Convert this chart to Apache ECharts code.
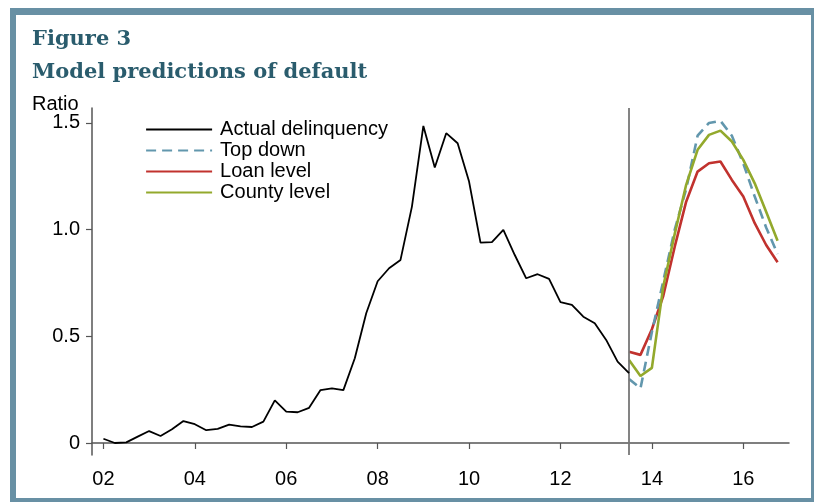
<!DOCTYPE html>
<html>
<head>
<meta charset="utf-8">
<script src="https://cdn.jsdelivr.net/npm/echarts@6/dist/echarts.min.js"></script>
<style>
html,body{margin:0;padding:0;background:#fff;}
#chart{width:814px;height:502px;}
</style>
</head>
<body>
<div id="chart"></div>
<script>
// ---- Data (quarterly) ----
const actualStart = 2002.0;      // first quarter of actual series
const forecastStart = 2013.5;    // first quarter of model predictions
const quarterStep = 0.25;

const actualDelinquency = [
  0.020, 0.000, 0.003, 0.030,
  0.056, 0.033, 0.064, 0.103,
  0.088, 0.060, 0.066, 0.086,
  0.078, 0.075, 0.100, 0.200,
  0.147, 0.144, 0.165, 0.248,
  0.256, 0.248, 0.397, 0.608,
  0.758, 0.819, 0.858, 1.108,
  1.486, 1.291, 1.452, 1.405,
  1.225, 0.939, 0.941, 0.999,
  0.881, 0.772, 0.791, 0.769,
  0.660, 0.647, 0.592, 0.561,
  0.483, 0.381, 0.327
];
const topDown = [0.300, 0.256, 0.520, 0.760, 1.000, 1.190, 1.440, 1.500, 1.510, 1.440, 1.310, 1.155, 1.010, 0.886];
const loanLevel = [0.428, 0.413, 0.533, 0.690, 0.920, 1.131, 1.272, 1.311, 1.319, 1.233, 1.155, 1.030, 0.928, 0.847];
const countyLevel = [0.389, 0.314, 0.352, 0.735, 0.980, 1.210, 1.374, 1.444, 1.464, 1.413, 1.327, 1.217, 1.084, 0.948];

const seriesNames = ['Actual delinquency', 'Top down', 'Loan level', 'County level'];
const xTickValues = [2002, 2004, 2006, 2008, 2010, 2012, 2014, 2016];
const yTickValues = [0, 0.5, 1.0, 1.5];
const forecastCutoff = 2013.5;

function toPairs(values, start) {
  return values.map((v, i) => [start + i * quarterStep, v]);
}

const BORDER = '#6890a4';
const TITLE = '#2a5c6d';
const chart = echarts.init(document.getElementById('chart'), null, {renderer: 'canvas'});

const option = {
  animation: false,
  backgroundColor: '#fff',
  graphic: [
    {type: 'rect', shape: {x: 10, y: 8, width: 804, height: 7}, style: {fill: BORDER}, silent: true},
    {type: 'rect', shape: {x: 10, y: 8, width: 6, height: 494}, style: {fill: BORDER}, silent: true},
    {type: 'rect', shape: {x: 811, y: 8, width: 3, height: 494}, style: {fill: BORDER}, silent: true},
    {type: 'rect', shape: {x: 10, y: 498, width: 804, height: 4}, style: {fill: BORDER}, silent: true},
    {type: 'text', x: 32, y: 40, style: {text: 'Figure 3', fill: TITLE, font: 'bold 21px "DejaVu Serif"', verticalAlign: 'middle'}},
    {type: 'text', x: 32, y: 73, style: {text: 'Model predictions of default', fill: TITLE, font: 'bold 21px "DejaVu Serif"', verticalAlign: 'middle'}},
    {type: 'text', x: 32, y: 104, style: {text: 'Ratio', fill: '#000', font: '20px "Liberation Sans"', verticalAlign: 'middle'}}
  ],
  legend: {
    orient: 'vertical',
    left: 140,
    top: 114,
    itemWidth: 66,
    itemHeight: 14,
    itemGap: 0,
    data: seriesNames,
    itemStyle: {opacity: 0},
    lineStyle: {width: 2.2},
    textStyle: {fontSize: 20, fontFamily: 'Liberation Sans', color: '#000', lineHeight: 21, padding: [0, 0, 0, 3]}
  },
  grid: {left: 92, right: 25, top: 108, bottom: 47},
  xAxis: {
    type: 'value',
    min: 2001.75,
    max: 2017,
    axisLine: {show: true, lineStyle: {color: '#555', width: 1.5}},
    axisTick: {show: true, length: 6, lineStyle: {color: '#555', width: 1.2}, customValues: xTickValues},
    axisLabel: {
      customValues: xTickValues,
      margin: 14,
      fontSize: 20,
      fontFamily: 'Liberation Sans',
      color: '#000',
      formatter: v => String(Math.round(v) % 100).padStart(2, '0')
    },
    splitLine: {show: false}
  },
  yAxis: {
    type: 'value',
    min: -0.05625,
    max: 1.57,
    axisLine: {show: true, lineStyle: {color: '#555', width: 1.5}},
    axisTick: {show: true, length: 6, lineStyle: {color: '#555', width: 1.2}, customValues: yTickValues},
    axisLabel: {
      customValues: yTickValues,
      margin: 12,
      fontSize: 20,
      fontFamily: 'Liberation Sans',
      color: '#000',
      formatter: v => (v === 0 ? '0' : v.toFixed(1))
    },
    splitLine: {show: false}
  },
  series: [
    {
      name: seriesNames[0], type: 'line', symbol: 'none', z: 5,
      data: toPairs(actualDelinquency, actualStart),
      lineStyle: {color: '#000', width: 1.8}, itemStyle: {color: '#000'},
      markLine: {
        silent: true, symbol: 'none', label: {show: false},
        lineStyle: {color: '#777', width: 1.8, type: 'solid'},
        data: [{xAxis: forecastCutoff}]
      }
    },
    {
      name: seriesNames[1], type: 'line', symbol: 'none', z: 4,
      data: toPairs(topDown, forecastStart),
      lineStyle: {color: '#6297ad', width: 2.6, type: [10, 6]}, itemStyle: {color: '#6297ad'}
    },
    {
      name: seriesNames[2], type: 'line', symbol: 'none', z: 3,
      data: toPairs(loanLevel, forecastStart),
      lineStyle: {color: '#c1322e', width: 2.6}, itemStyle: {color: '#c1322e'}
    },
    {
      name: seriesNames[3], type: 'line', symbol: 'none', z: 4,
      data: toPairs(countyLevel, forecastStart),
      lineStyle: {color: '#93a92c', width: 2.6}, itemStyle: {color: '#93a92c'}
    }
  ]
};
chart.setOption(option);
</script>
</body>
</html>
